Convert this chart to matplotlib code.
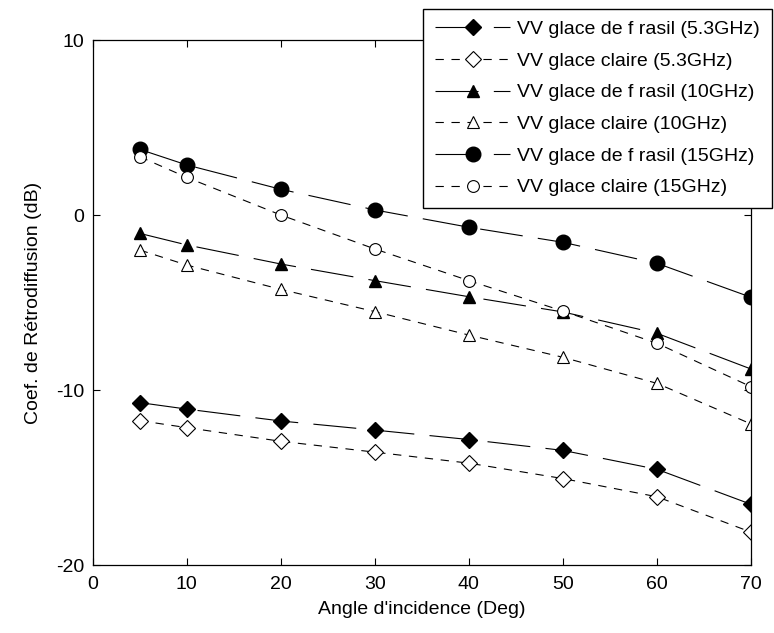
import matplotlib
matplotlib.use('Agg')
import matplotlib.pyplot as plt

plt.rcParams['font.family'] = ['Liberation Sans', 'DejaVu Sans']
plt.rcParams['lines.scale_dashes'] = False
plt.rcParams['axes.unicode_minus'] = False

angles = [5, 10, 20, 30, 40, 50, 60, 70]

vv_frasil_53 = [-10.72, -11.09, -11.77, -12.29, -12.83, -13.45, -14.53, -16.53]
vv_claire_53 = [-11.75, -12.15, -12.93, -13.55, -14.18, -15.06, -16.10, -18.12]
vv_frasil_10 = [-1.05, -1.71, -2.80, -3.75, -4.67, -5.54, -6.76, -8.80]
vv_claire_10 = [-2.00, -2.86, -4.25, -5.52, -6.86, -8.13, -9.62, -11.94]
vv_frasil_15 = [3.75, 2.86, 1.47, 0.29, -0.70, -1.56, -2.76, -4.70]
vv_claire_15 = [3.33, 2.15, 0.00, -1.94, -3.75, -5.49, -7.33, -9.81]

labels = ['VV glace de f rasil (5.3GHz)', 'VV glace claire (5.3GHz)',
          'VV glace de f rasil (10GHz)', 'VV glace claire (10GHz)',
          'VV glace de f rasil (15GHz)', 'VV glace claire (15GHz)']

long_dash = (31, 11)
short_dash = (6, 5.5)

fig = plt.figure(figsize=(7.74, 6.33), dpi=100)
ax = fig.add_axes([0.1198, 0.1074, 0.8505, 0.8294])

ax.plot(angles, vv_frasil_53, color='k', lw=0.8, dashes=long_dash,
        marker='D', ms=8, mfc='k', mec='k', label=labels[0])
ax.plot(angles, vv_claire_53, color='k', lw=0.8, dashes=short_dash,
        marker='D', ms=8, mfc='white', mec='k', mew=0.8, label=labels[1])
ax.plot(angles, vv_frasil_10, color='k', lw=0.8, dashes=long_dash,
        marker='^', ms=9, mfc='k', mec='k', label=labels[2])
ax.plot(angles, vv_claire_10, color='k', lw=0.8, dashes=short_dash,
        marker='^', ms=9, mfc='white', mec='k', mew=0.8, label=labels[3])
ax.plot(angles, vv_frasil_15, color='k', lw=0.8, dashes=long_dash,
        marker='o', ms=10.5, mfc='k', mec='k', label=labels[4])
ax.plot(angles, vv_claire_15, color='k', lw=0.8, dashes=short_dash,
        marker='o', ms=8.5, mfc='white', mec='k', mew=0.8, label=labels[5])

ax.set_xlim(0, 70)
ax.set_ylim(-20, 10)
ax.set_xticks(range(0, 71, 10))
ax.set_yticks([-20, -10, 0, 10])
ax.tick_params(direction='in', top=True, right=True, length=5, width=0.8,
               labelsize=14)
ax.tick_params(axis='x', pad=8)
ax.tick_params(axis='y', pad=6)
for s in ax.spines.values():
    s.set_linewidth(0.9)

ax.set_xlabel("Angle d'incidence (Deg)", fontsize=14, labelpad=6)
ax.set_ylabel('Coef. de Rétrodiffusion (dB)', fontsize=14, labelpad=10)

leg = ax.legend(loc='upper left', bbox_to_anchor=(0.5465, 0.9858),
                bbox_transform=fig.transFigure, borderaxespad=0,
                fontsize=14, handlelength=3.9, handletextpad=0.35,
                labelspacing=0.72, borderpad=0.6, fancybox=False,
                framealpha=1, edgecolor='k')
leg.get_frame().set_linewidth(1.0)
leg.set_zorder(5)

fig.savefig('out.png', dpi=100)
